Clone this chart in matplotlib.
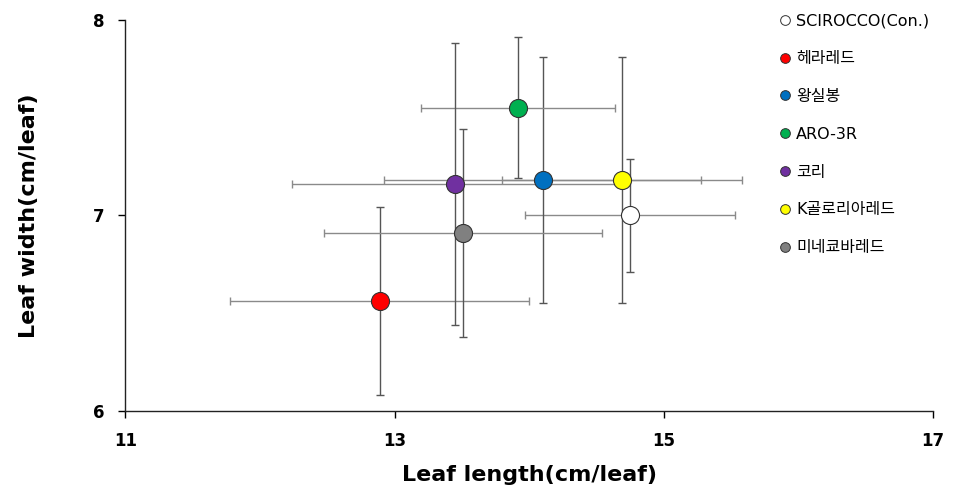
import matplotlib
matplotlib.use("Agg")
import matplotlib.pyplot as plt
from matplotlib.lines import Line2D

plt.rcParams['font.family'] = ['DejaVu Sans', 'Noto Sans CJK KR']

cultivars = ["SCIROCCO(Con.)", "헤라레드", "왕실봉", "ARO-3R", "코리", "K골로리아레드", "미네쿄바레드"]
leaf_length = [14.75, 12.89, 14.10, 13.92, 13.45, 14.69, 13.51]
length_err = [0.78, 1.11, 1.18, 0.72, 1.21, 0.89, 1.03]
leaf_width = [7.00, 6.56, 7.18, 7.55, 7.16, 7.18, 6.91]
width_err = [0.29, 0.48, 0.63, 0.36, 0.72, 0.63, 0.53]
colors = ["#ffffff", "#ff0000", "#0070c0", "#00b050", "#7030a0", "#ffff00", "#808080"]

xticks = [11, 13, 15, 17]
yticks = [6, 7, 8]

fig = plt.figure(figsize=(9.56, 4.92), dpi=100)
ax = fig.add_axes([0.131, 0.165, 0.845, 0.795])

for x, y, xe, ye in zip(leaf_length, leaf_width, length_err, width_err):
    ax.errorbar(x, y, xerr=xe, yerr=None, fmt='none', ecolor='#8a8a8a',
                elinewidth=1.0, capsize=3, capthick=1.0, zorder=2)
    ax.errorbar(x, y, xerr=None, yerr=ye, fmt='none', ecolor='#555555',
                elinewidth=1.0, capsize=3, capthick=1.0, zorder=2)

handles = []
for x, y, c, name in zip(leaf_length, leaf_width, colors, cultivars):
    ax.plot(x, y, 'o', markersize=13, markerfacecolor=c,
            markeredgecolor='#333333', markeredgewidth=0.8, zorder=3)
    handles.append(Line2D([], [], linestyle='none', marker='o', markersize=7,
                          markerfacecolor=c, markeredgecolor='#333333',
                          markeredgewidth=0.7, label=name))

ax.set_xlim(11, 17)
ax.set_ylim(6, 8)
ax.set_xticks(xticks)
ax.set_yticks(yticks)
ax.set_xticklabels([str(t) for t in xticks], fontsize=12, fontweight='bold')
ax.set_yticklabels([str(t) for t in yticks], fontsize=12, fontweight='bold')
ax.spines['top'].set_visible(False)
ax.spines['right'].set_visible(False)
for s in ['left', 'bottom']:
    ax.spines[s].set_linewidth(1.0)
    ax.spines[s].set_color('#222222')
ax.tick_params(axis='both', direction='out', length=5, width=1, pad=10)

ax.set_xlabel("Leaf length(cm/leaf)", fontsize=16, fontweight='bold', labelpad=11)
ax.set_ylabel("Leaf width(cm/leaf)", fontsize=16, fontweight='bold', labelpad=39)

fig.legend(handles=handles, loc='upper left', bbox_to_anchor=(0.806, 0.986),
           frameon=False, fontsize=11.5, labelspacing=1.43, handletextpad=0.2,
           handlelength=1.0, borderaxespad=0)

fig.savefig("out.png", dpi=100)
